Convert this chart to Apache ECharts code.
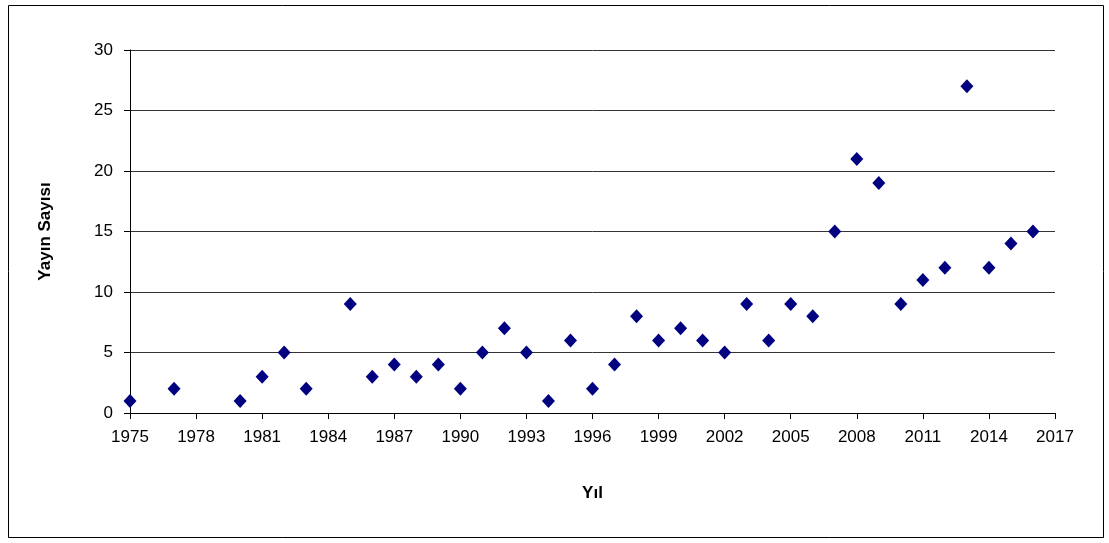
<!DOCTYPE html>
<html><head><meta charset="utf-8">
<script src="https://cdn.jsdelivr.net/npm/echarts@6/dist/echarts.min.js"></script>
<style>html,body{margin:0;padding:0;background:#fff}#c{width:1109px;height:543px}</style>
</head><body><div id="c"></div>
<script>
const years = [1975,1977,1980,1981,1982,1983,1985,1986,1987,1988,1989,1990,1991,1992,1993,1994,1995,1996,1997,1998,1999,2000,2001,2002,2003,2004,2005,2006,2007,2008,2009,2010,2011,2012,2013,2014,2015,2016];
const counts = [1,2,1,3,5,2,9,3,4,3,4,2,5,7,5,1,6,2,4,8,6,7,6,5,9,6,9,8,15,21,19,9,11,12,27,12,14,15];
const xTitle = 'Yıl';
const yTitle = 'Yayın Sayısı';

const chart = echarts.init(document.getElementById('c'), null, {renderer:'canvas'});
const font = 'Liberation Sans, Arial, sans-serif';
chart.setOption({
  animation:false,
  backgroundColor:'#fff',
  graphic:[{type:'rect',shape:{x:8.5,y:5.5,width:1095,height:532},style:{fill:'none',stroke:'#000',lineWidth:1}}],
  grid:{left:130,right:54,top:50,bottom:130},
  xAxis:{type:'value',min:1975,max:2017,interval:3,
    name:xTitle,nameLocation:'middle',nameGap:72,
    nameTextStyle:{fontFamily:font,fontSize:17,fontWeight:'bold',color:'#000'},
    axisLine:{show:true,lineStyle:{color:'#000',width:1}},
    axisTick:{show:true,length:6,lineStyle:{color:'#000'}},
    axisLabel:{fontFamily:font,fontSize:17,color:'#000',margin:16,formatter:v=>String(v)},
    splitLine:{show:false}},
  yAxis:{type:'value',min:0,max:30,interval:5,
    name:yTitle,nameLocation:'middle',nameGap:76,
    nameTextStyle:{fontFamily:font,fontSize:17,fontWeight:'bold',color:'#000'},
    axisLine:{show:true,lineStyle:{color:'#000',width:1}},
    axisTick:{show:true,length:6,lineStyle:{color:'#000'}},
    axisLabel:{fontFamily:font,fontSize:17,color:'#000',margin:17},
    splitLine:{show:true,lineStyle:{color:'#333',width:1}}},
  series:[{type:'scatter',symbol:'diamond',symbolSize:[13,14],
    itemStyle:{color:'#000080',opacity:1},
    data:years.map((y,i)=>[y,counts[i]])}]
});
</script></body></html>
